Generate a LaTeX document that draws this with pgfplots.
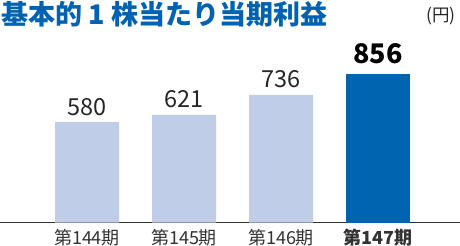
\documentclass[border=0pt]{standalone}
\usepackage{fontspec}
\setmainfont{Noto Sans CJK JP}
\usepackage{pgfplots}
\pgfplotsset{compat=1.18}
\definecolor{lightbar}{RGB}{191,205,232}
\definecolor{darkbar}{RGB}{0,100,176}
\definecolor{titleblue}{RGB}{0,98,176}
\begin{document}
\begin{tikzpicture}
\begin{axis}[
 at={(87pt,23.3pt)}, anchor=origin,
 scale only axis, width=460pt, height=173.6pt,
 xmin=-0.897, xmax=3.845, ymin=0, ymax=1000,
 axis x line*=bottom, axis y line=none,
 ytick=\empty, xtick={0,1,2,3},
 xticklabels={第144期,第145期,第146期,\textbf{第147期}},
 major tick length=0pt,
 xticklabel style={font=\fontsize{18}{18}\selectfont, anchor=north, yshift=-3pt, text=black!80},
 ybar, bar width=64pt, bar shift=0pt,
 clip=false,
 axis line style={black!80, line width=0.8pt},
 point meta=explicit symbolic,
]
\addplot[fill=lightbar, draw=none, nodes near coords,
  nodes near coords style={font=\fontsize{23.5}{23.5}\selectfont, anchor=base, yshift=7pt, text=black!85}]
  coordinates {(0,580)[580] (1,621)[621] (2,736)[736]};
\addplot[fill=darkbar, draw=none, nodes near coords,
  nodes near coords style={font=\bfseries\fontsize{27}{27}\selectfont, anchor=base, yshift=11pt, text=black}]
  coordinates {(3,856)[856]};
\end{axis}
\node[anchor=north west, font=\bfseries\fontsize{27}{27}\selectfont, text=titleblue, inner sep=0pt] at (1pt,245pt) {基本的 1 株当たり当期利益};
\node[anchor=north east, font=\fontsize{17.5}{17.5}\selectfont, text=black!85, inner sep=0pt] at (456pt,239pt) {(円)};
\pgfresetboundingbox
\path[use as bounding box] (0pt,0pt) rectangle (460pt,246pt);
\end{tikzpicture}
\end{document}
